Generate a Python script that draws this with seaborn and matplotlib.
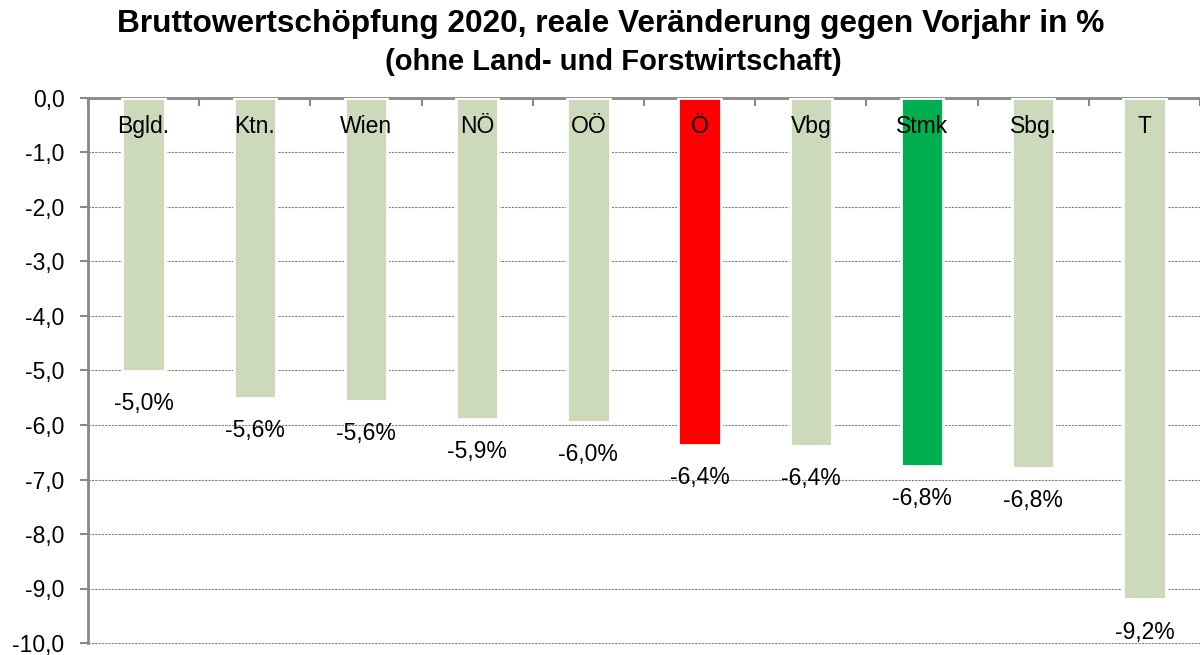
import matplotlib
matplotlib.use("Agg")
import matplotlib.pyplot as plt
import seaborn as sns
import pandas as pd

# Bundesländer, Balkenwerte (wie gezeichnet) und Beschriftungen (gerundet)
regions = ["Bgld.", "Ktn.", "Wien", "NÖ", "OÖ", "Ö", "Vbg", "Stmk", "Sbg.", "T"]
bar_values = [-5.01, -5.50, -5.56, -5.89, -5.94, -6.36, -6.38, -6.75, -6.79, -9.20]
label_values = [-5.0, -5.6, -5.6, -5.9, -6.0, -6.4, -6.4, -6.8, -6.8, -9.2]
bar_colors = ["#CCD9BA"] * 5 + ["#FF0000", "#CCD9BA", "#00B050", "#CCD9BA", "#CCD9BA"]

df = pd.DataFrame({"region": regions, "value": bar_values})

sns.set_style("white")
plt.rcParams["font.family"] = ["Liberation Sans", "DejaVu Sans"]
plt.rcParams["text.color"] = "black"
plt.rcParams["xtick.color"] = "black"
plt.rcParams["ytick.color"] = "black"

fig = plt.figure(figsize=(12, 6.55), dpi=100)
ax = fig.add_axes([88 / 1200, 1 - 643 / 655, 1 - 88 / 1200, (643 - 98) / 655])

sns.barplot(data=df, x="region", y="value", hue="region", order=regions,
            palette=dict(zip(regions, bar_colors)), legend=False, width=0.38,
            edgecolor="white", linewidth=2, saturation=1, ax=ax, zorder=3)

ax.set_ylim(-10, 0)
ax.set_xlim(-0.5, len(regions) - 0.5)
ax.set_yticks(range(-10, 1))
ax.set_yticklabels([f"{v:.1f}".replace(".", ",") for v in range(-10, 1)], fontsize=16.5)
ax.set_xlabel("")
ax.set_ylabel("")

# x-Ticks an den Kategoriegrenzen auf der oberen Achse
ax.xaxis.tick_top()
ax.set_xticks([i - 0.5 for i in range(len(regions) + 1)])
ax.set_xticklabels([])
ax.tick_params(axis="x", direction="in", length=6, color="#888888", width=1.5, top=True)
ax.tick_params(axis="y", direction="out", length=6, color="#888888", width=1.5, left=True,
               pad=11, labelcolor="black")

ax.yaxis.grid(True, linestyle=(0, (2, 1)), color="#808080", linewidth=0.8, zorder=0)
for gl in ax.yaxis.get_gridlines():
    gl.set_clip_on(False)
ax.set_axisbelow(True)

for side in ["right", "bottom"]:
    ax.spines[side].set_visible(False)
for side in ["top", "left"]:
    ax.spines[side].set_color("#888888")
    ax.spines[side].set_linewidth(2)

for i, (r, v, lv) in enumerate(zip(regions, bar_values, label_values)):
    ax.text(i, -0.53, r, ha="center", va="center", fontsize=16.5, color="black", zorder=5)
    ax.text(i, v - 0.6, f"{lv:.1f}%".replace(".", ","), ha="center", va="center",
            fontsize=16.5, color="black", zorder=5)

fig.text(611 / 1200, 1 - 24 / 655, "Bruttowertschöpfung 2020, reale Veränderung gegen Vorjahr in %",
         ha="center", va="center", fontsize=22.8, fontweight="bold", color="black")
fig.text(613 / 1200, 1 - 62 / 655, "(ohne Land- und Forstwirtschaft)",
         ha="center", va="center", fontsize=21, fontweight="bold", color="black")

fig.savefig("out.png", dpi=100)
